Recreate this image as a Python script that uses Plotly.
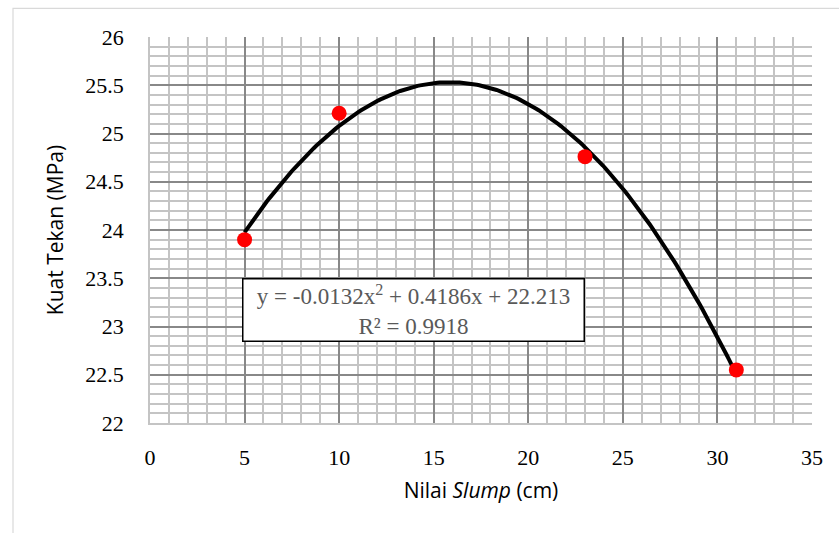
import numpy as np
import plotly.graph_objects as go

# Data
slump_cm = [5, 10, 23, 31]
kuat_tekan_mpa = [23.9, 25.21, 24.76, 22.55]

# Polynomial trendline coefficients (from the equation label)
trend_coef = [-0.0132, 0.4186, 22.213]
trend_label = "y = -0.0132x<sup>2</sup> + 0.4186x + 22.213<br>R² = 0.9918"

x_ticks = [0, 5, 10, 15, 20, 25, 30, 35]
y_ticks = [22, 22.5, 23, 23.5, 24, 24.5, 25, 25.5, 26]

xt = np.linspace(min(slump_cm), max(slump_cm), 200)
yt = np.polyval(trend_coef, xt)

fig = go.Figure()
fig.add_trace(go.Scatter(x=xt, y=yt, mode="lines",
                         line=dict(color="black", width=4),
                         hoverinfo="skip", showlegend=False))
fig.add_trace(go.Scatter(x=slump_cm, y=kuat_tekan_mpa, mode="markers",
                         marker=dict(color="#ff0000", size=15),
                         showlegend=False))

serif = "Liberation Serif, Times New Roman, serif"
sans = "Open Sans, Noto Sans, sans-serif"

W, H = 839, 533
ml, mr, mt, mb = 150, 27, 37, 110
pw, ph = W - ml - mr, H - mt - mb

fig.update_layout(
    width=W, height=H,
    margin=dict(l=ml, r=mr, t=mt, b=mb),
    paper_bgcolor="white", plot_bgcolor="white",
    xaxis=dict(
        range=[0, 35], tickvals=x_ticks, ticktext=[str(v) for v in x_ticks],
        showgrid=True, gridcolor="#888888", gridwidth=1.5,
        minor=dict(dtick=1, showgrid=True, gridcolor="#c4c4c4", gridwidth=1.5),
        zeroline=False, showline=True, linecolor="#c4c4c4", linewidth=1.5,
        ticks="", ticklabelstandoff=14,
        tickfont=dict(family=serif, size=22, color="black"),
        title=dict(text="Nilai <i>Slump</i> (cm)", standoff=14,
                   font=dict(family=sans, size=21, color="black")),
    ),
    yaxis=dict(
        range=[22, 26], tickvals=y_ticks, ticktext=[f"{v:g}" for v in y_ticks],
        showgrid=True, gridcolor="#888888", gridwidth=1.5,
        minor=dict(dtick=0.1, tick0=22, showgrid=True, gridcolor="#c4c4c4", gridwidth=1.5),
        zeroline=False, showline=True, linecolor="#c4c4c4", linewidth=1.5,
        ticks="", ticklabelstandoff=20,
        tickfont=dict(family=serif, size=22, color="black"),
        title=dict(text="Kuat Tekan (MPa)", standoff=16,
                   font=dict(family=sans, size=21, color="black")),
    ),
    annotations=[dict(
        x=13.94, y=23.176, xref="x", yref="y", text=trend_label,
        showarrow=False, align="center", width=336, height=57,
        bgcolor="white", bordercolor="black", borderwidth=1.5, borderpad=2,
        font=dict(family=serif, size=23, color="#595959"),
    )],
    shapes=[dict(
        type="rect", xref="paper", yref="paper",
        x0=(13 - ml) / pw, x1=2, y0=-1, y1=1 + (mt - 8.3) / ph,
        line=dict(color="#d9d9d9", width=1.2), layer="below",
    )],
)

fig.write_html(
    "out.html",
    config={"displayModeBar": False},
    post_script="document.body.style.margin='0';document.body.style.overflow='hidden';",
)
